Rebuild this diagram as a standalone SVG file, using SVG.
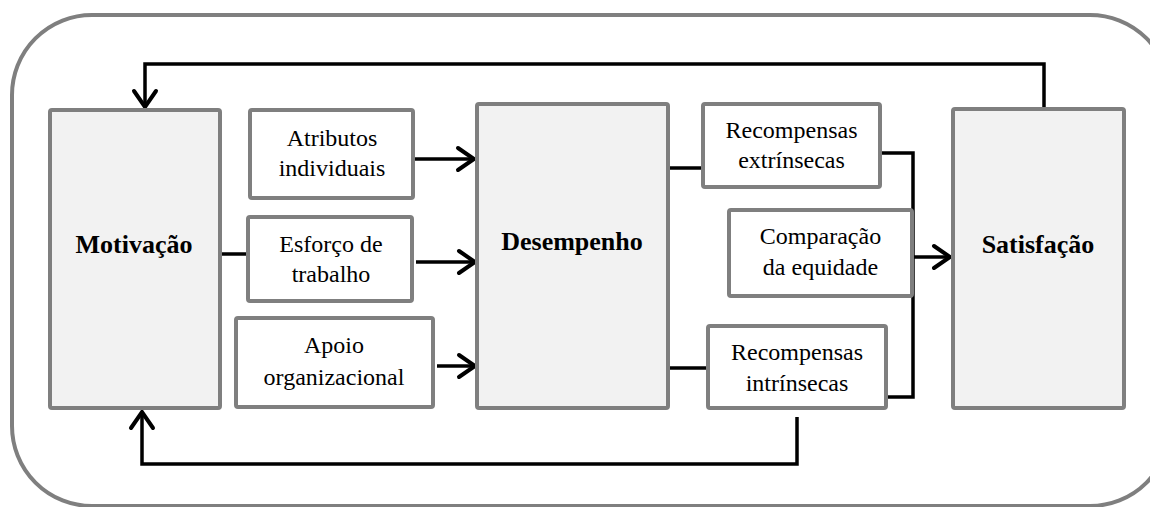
<svg xmlns="http://www.w3.org/2000/svg" width="1150" height="507" viewBox="0 0 1150 507">
<defs>
<style>
.frame{fill:#ffffff;stroke:#7f7f7f;stroke-width:4}
.big{fill:#f2f2f2;stroke:#7f7f7f;stroke-width:4}
.small{fill:#ffffff;stroke:#7f7f7f;stroke-width:4}
.conn{fill:none;stroke:#000000;stroke-width:3.5}
.t{font-size:24px;fill:#000000;text-anchor:middle}
.b{font-size:26px;font-weight:bold;fill:#000000;text-anchor:middle}
</style>
<marker id="arr" markerUnits="userSpaceOnUse" markerWidth="24" markerHeight="30" viewBox="-20 -14 24 28" refX="0" refY="0" orient="auto">
<path d="M-16,-11 L0,0 L-16,11" fill="none" stroke="#000000" stroke-width="4" stroke-linecap="round" stroke-linejoin="miter"/>
</marker>
</defs>
<rect class="frame" x="12" y="15" width="1158" height="491" rx="80" ry="80"/>
<g id="connectors">
<path class="conn" d="M1044,109 V64 H145 V107" marker-end="url(#arr)"/>
<path class="conn" d="M797,417 V464 H142 V412" marker-end="url(#arr)"/>
<path class="conn" d="M220,254 H248"/>
<path class="conn" d="M414,159 H474" marker-end="url(#arr)"/>
<path class="conn" d="M416,262 H475" marker-end="url(#arr)"/>
<path class="conn" d="M437,366 H475" marker-end="url(#arr)"/>
<path class="conn" d="M668,168 H703"/>
<path class="conn" d="M668,368 H708"/>
<path class="conn" d="M880,153 H913 V397 H886"/>
<path class="conn" d="M912,257 H950" marker-end="url(#arr)"/>
</g>
<g font-family="'Liberation Serif', 'Times New Roman', 'DejaVu Serif', serif">
<g id="motivacao">
<rect class="big" x="50" y="110" width="170" height="298" rx="2"/>
<text class="b" x="134" y="253">Motivação</text>
</g>
<g id="atributos">
<rect class="small" x="250" y="110" width="163" height="88" rx="2"/>
<text class="t" x="332" y="146">Atributos</text>
<text class="t" x="332" y="176">individuais</text>
</g>
<g id="esforco">
<rect class="small" x="248" y="217" width="164" height="84" rx="2"/>
<text class="t" x="331" y="252">Esforço de</text>
<text class="t" x="331" y="282">trabalho</text>
</g>
<g id="apoio">
<rect class="small" x="236" y="318" width="197" height="89" rx="2"/>
<text class="t" x="334" y="353">Apoio</text>
<text class="t" x="334" y="385">organizacional</text>
</g>
<g id="desempenho">
<rect class="big" x="477" y="104" width="191" height="304" rx="2"/>
<text class="b" x="572" y="250">Desempenho</text>
</g>
<g id="recompensas-extrinsecas">
<rect class="small" x="703" y="104" width="177" height="83" rx="2"/>
<text class="t" x="791.5" y="138">Recompensas</text>
<text class="t" x="791.5" y="168">extrínsecas</text>
</g>
<g id="comparacao">
<rect class="small" x="729" y="210" width="183" height="86" rx="2"/>
<text class="t" x="820.5" y="244">Comparação</text>
<text class="t" x="820.5" y="275">da equidade</text>
</g>
<g id="recompensas-intrinsecas">
<rect class="small" x="708" y="326" width="178" height="82" rx="2"/>
<text class="t" x="797" y="360">Recompensas</text>
<text class="t" x="797" y="391">intrínsecas</text>
</g>
<g id="satisfacao">
<rect class="big" x="953" y="109" width="171" height="299" rx="2"/>
<text class="b" x="1038" y="253">Satisfação</text>
</g>
</g>
</svg>
